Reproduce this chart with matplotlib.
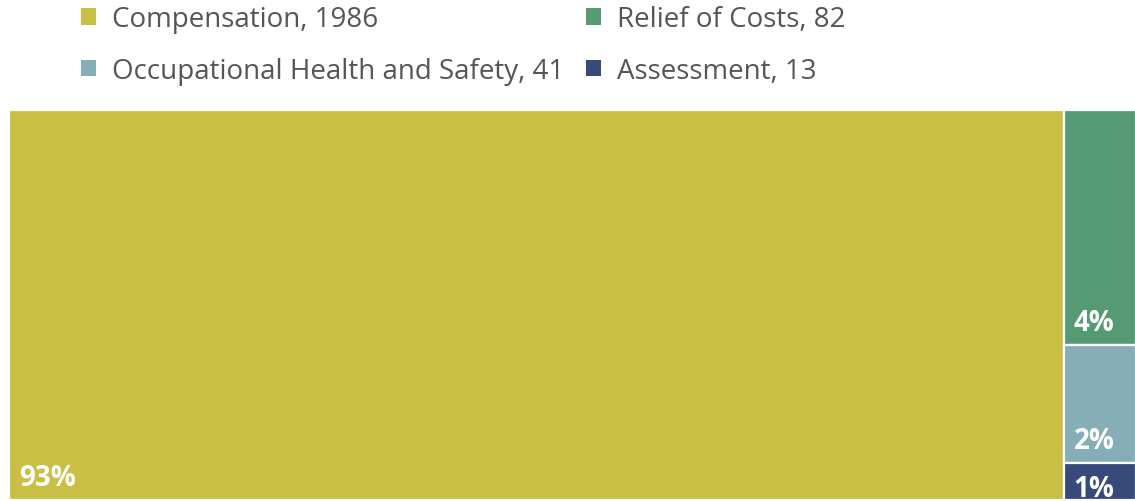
import matplotlib.pyplot as plt
from matplotlib.patches import Rectangle
from matplotlib.transforms import offset_copy

# data
categories = ["Compensation", "Relief of Costs", "Occupational Health and Safety", "Assessment"]
values = [1986, 82, 41, 13]
pct_labels = ["93%", "4%", "2%", "1%"]
colors = ["#C9BF45", "#559A72", "#86AEB6", "#374A7A"]

plt.rcParams["font.family"] = ["Open Sans", "DejaVu Sans"]

fig = plt.figure(figsize=(11.35, 5.02), dpi=100)
ax = fig.add_axes([9 / 1135, 1 / 502, 1127 / 1135, 390 / 502])
ax.set_xlim(0, 1)
ax.set_ylim(0, 1)
ax.axis("off")

total = sum(values)
rest = sum(values[1:])

# treemap: biggest block on the left, the rest stacked in the right column
rects = []
w0 = values[0] / total
rects.append((0, 0, w0, 1))
y = 1
for v in values[1:]:
    h = v / rest
    y -= h
    rects.append((w0, y, 1 - w0, h))

handles = []
for (x0, y0, w, h), c, name, v, lab in zip(rects, colors, categories, values, pct_labels):
    p = Rectangle((x0, y0), w, h, facecolor=c, edgecolor="white", linewidth=1.6)
    ax.add_patch(p)
    handles.append(Rectangle((0, 0), 1, 1, facecolor=c, label=f"{name}, {v}"))
    # label in lower-left corner, pushed down when the box is short
    h_px = h * 390
    dy = 15 if h_px > 50 else 4
    tr = offset_copy(ax.transData, fig=fig, x=10, y=dy, units="dots")
    ax.text(x0, y0, lab, transform=tr, color="white", fontsize=20,
            fontweight="bold", ha="left", va="baseline")

order = [0, 2, 1, 3]
leg = fig.legend([handles[i] for i in order], [handles[i].get_label() for i in order],
                 ncol=2, loc="upper left", bbox_to_anchor=(81 / 1135, 1 - 6 / 502),
                 frameon=False, fontsize=20, handlelength=0.55, handleheight=0.55,
                 handletextpad=0.55, columnspacing=0.8, labelspacing=0.86,
                 borderaxespad=0.0, borderpad=0.0)
for t in leg.get_texts():
    t.set_color("#555555")

fig.savefig("out.png", dpi=100)
